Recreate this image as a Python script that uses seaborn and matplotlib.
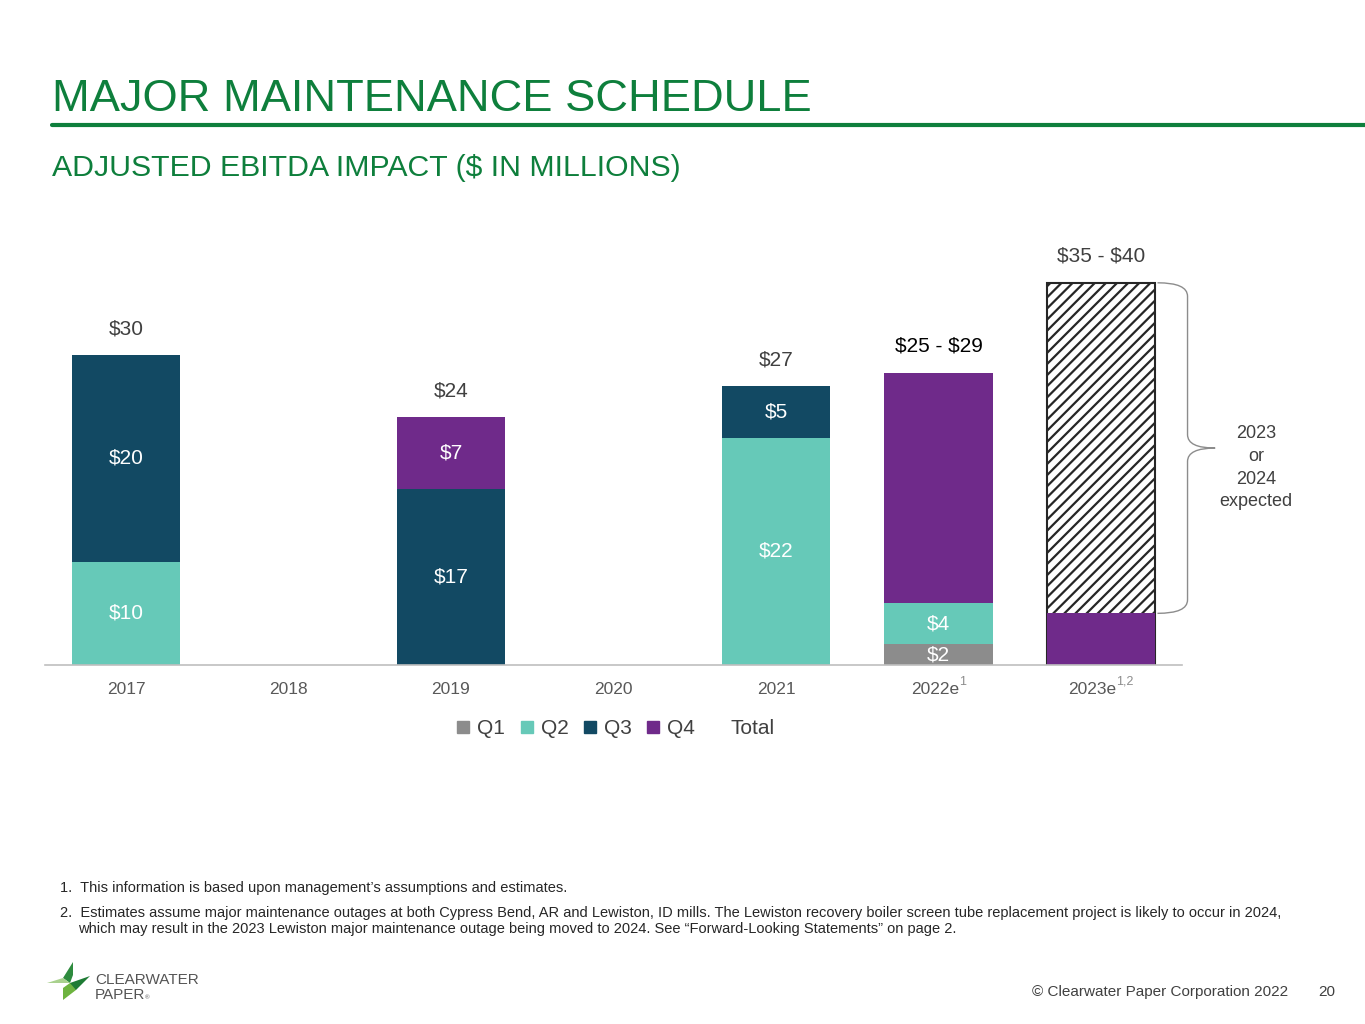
import matplotlib
matplotlib.use("Agg")
import matplotlib.pyplot as plt
import matplotlib.transforms as mtransforms
import seaborn as sns
import pandas as pd
import numpy as np
from matplotlib.path import Path
from matplotlib.patches import PathPatch, Polygon
from matplotlib.lines import Line2D

# ---------------- data ----------------
years = ["2017", "2018", "2019", "2020", "2021", "2022e", "2023e"]
tick_labels = ["2017", "2018", "2019", "2020", "2021", "2022e", "2023e"]
tick_superscripts = ["", "", "", "", "", "1", "1,2"]
q1 = [0, 0, 0, 0, 0, 2, 0]
q2 = [10, 0, 0, 0, 22, 4, 0]
q3 = [20, 0, 17, 0, 5, 0, 0]
q4 = [0, 0, 7, 0, 0, 22.3, 5]
open_part = [0, 0, 0, 0, 0, 0, 32]   # hatched "2023 or 2024 expected" portion
q1_labels = ["", "", "", "", "", r"\$2", ""]
q2_labels = [r"\$10", "", "", "", r"\$22", r"\$4", ""]
q3_labels = [r"\$20", "", r"\$17", "", r"\$5", "", ""]
q4_labels = ["", "", r"\$7", "", "", "", ""]
total_labels = [r"\$30", "", r"\$24", "", r"\$27", r"\$25 - \$29", r"\$35 - \$40"]
total_label_colors = ["#404040", "#404040", "#404040", "#404040", "#404040", "#000000", "#404040"]
series_names = ["Q1", "Q2", "Q3", "Q4"]

# ---------------- style ----------------
sns.set_theme(style="white")
plt.rcParams["font.family"] = ["Liberation Sans", "DejaVu Sans"]
plt.rcParams["hatch.linewidth"] = 1.6

colors = {"Q1": "#8C8C8C", "Q2": "#66C9B8", "Q3": "#124963", "Q4": "#6F2A8A"}
GREEN = "#0E7F3C"

W, H = 1365, 1024
fig = plt.figure(figsize=(W / 100, H / 100), dpi=100)
fig.patch.set_facecolor("white")

def fx(px):
    return px / W

def fy(py):
    return 1 - py / H

# axes placement
ax = fig.add_axes([fx(44.75), fy(665), (1182.25 - 44.75) / W, (665 - 251.8) / H])

df = pd.DataFrame({"year": years, "Q1": q1, "Q2": q2, "Q3": q3, "Q4": q4, "open": open_part})
df["c1"] = df["Q1"]
df["c2"] = df["c1"] + df["Q2"]
df["c3"] = df["c2"] + df["Q3"]
df["c4"] = df["c3"] + df["Q4"]
df["top"] = df["c4"] + df["open"]

BW = 0.665

# hatched portion (only where present)
dh = df[df["open"] > 0]
sns.barplot(data=dh, x="year", y="top", order=years, color="white", saturation=1,
            width=BW, errorbar=None, ax=ax, edgecolor="#262626", hatch="///", linewidth=1.5)

for col, name in [("c4", "Q4"), ("c3", "Q3"), ("c2", "Q2"), ("c1", "Q1")]:
    sns.barplot(data=df, x="year", y=col, order=years, color=colors[name], saturation=1,
                width=BW, errorbar=None, ax=ax, linewidth=0)

# segment labels
bottoms = np.zeros(len(years))
for vals, labs in [(q1, q1_labels), (q2, q2_labels), (q3, q3_labels), (q4, q4_labels)]:
    for i, (v, lab) in enumerate(zip(vals, labs)):
        if lab:
            ax.text(i, bottoms[i] + v / 2, lab, ha="center", va="center",
                    color="white", fontsize=15)
    bottoms = bottoms + np.array(vals)

# total labels
for i, lab in enumerate(total_labels):
    if lab:
        ax.annotate(lab, (i, df["top"].iloc[i]), xytext=(0, 19), textcoords="offset points",
                    ha="center", va="center", fontsize=15, color=total_label_colors[i])

# brace for open portion of 2023e
i = 6
y0 = df["c4"].iloc[i]
y1 = df["top"].iloc[i]
ym = (y0 + y1) / 2
xa = i + BW / 2 + 0.015
xb = xa + 0.185
xt = xb + 0.17
r = 1.3
verts = [(xa, y1), (xb, y1), (xb, y1 - r),
         (xb, ym + r), (xb, ym), (xt, ym),
         (xb, ym), (xb, ym - r),
         (xb, y0 + r), (xb, y0), (xa, y0)]
codes = [Path.MOVETO, Path.CURVE3, Path.CURVE3,
         Path.LINETO, Path.CURVE3, Path.CURVE3,
         Path.CURVE3, Path.CURVE3,
         Path.LINETO, Path.CURVE3, Path.CURVE3]
ax.add_patch(PathPatch(Path(verts, codes), facecolor="none", edgecolor="#8C8C8C",
                       linewidth=1.0, clip_on=False))
ax.text(xt + 0.25, ym - 1.9, "2023\nor\n2024\nexpected", ha="center", va="center",
        fontsize=13, color="#404040", linespacing=1.45, clip_on=False)

ax.set_xlim(-0.5, 6.5)
ax.set_ylim(0, 40)
ax.set_xticks(range(len(years)))
ax.set_xticklabels(tick_labels, fontsize=12.5, color="#595959")
ax.tick_params(axis="x", length=0, pad=12)
ax.set_yticks([])
ax.set_xlabel("")
ax.set_ylabel("")
for s in ["top", "right", "left"]:
    ax.spines[s].set_visible(False)
ax.spines["bottom"].set_color("#BFBFBF")
ax.spines["bottom"].set_linewidth(1.2)

# superscripts on tick labels (whole label + superscript centred on the tick)
fig.canvas.draw()
renderer = fig.canvas.get_renderer()
for lbl, sup in zip(ax.get_xticklabels(), tick_superscripts):
    if sup:
        st = fig.text(0, 0, sup, fontsize=9, color="#8C8C8C", ha="left", va="baseline")
        sw = st.get_window_extent(renderer).width
        shift = mtransforms.ScaledTranslation(-sw / 2 / 100, 0, fig.dpi_scale_trans)
        lbl.set_transform(lbl.get_transform() + shift)
        bb = lbl.get_window_extent(renderer)
        st.set_position((bb.x1 / W, (bb.y1 - 3) / H))

# legend
handles = [Line2D([], [], marker="s", linestyle="none", markersize=8.5,
                  markerfacecolor=colors[n], markeredgecolor=colors[n]) for n in series_names]
handles.append(Line2D([], [], marker="s", linestyle="none", markersize=8.5,
                      markerfacecolor="none", markeredgecolor="none"))
fig.legend(handles, series_names + ["Total"], loc="center", bbox_to_anchor=(fx(616), fy(729)),
           ncol=5, frameon=False, fontsize=15, handlelength=0.55, handletextpad=0.4,
           columnspacing=0.75, labelcolor="#404040")

# titles
fig.text(fx(52), fy(111), "MAJOR MAINTENANCE SCHEDULE", fontsize=32.6, color=GREEN, va="baseline")
fig.add_artist(Line2D([fx(52), fx(1365)], [fy(125), fy(125)], color=GREEN, linewidth=3))
fig.text(fx(52), fy(176), "ADJUSTED EBITDA IMPACT ($ IN MILLIONS)", fontsize=21.8, color=GREEN,
         va="baseline")

# footnotes
fn_color = "#262626"
fig.text(fx(60), fy(892), "1.  This information is based upon management’s assumptions and estimates.",
         fontsize=10.5, color=fn_color, va="baseline")
fig.text(fx(60), fy(917), "2.  Estimates assume major maintenance outages at both Cypress Bend, AR and Lewiston, ID mills. "
         "The Lewiston recovery boiler screen tube replacement project is likely to occur in 2024,",
         fontsize=10.5, color=fn_color, va="baseline")
fig.text(fx(78), fy(933), "which may result in the 2023 Lewiston major maintenance outage being moved to 2024. "
         "See “Forward-Looking Statements” on page 2.", fontsize=10.5, color=fn_color, va="baseline")

# footer
fig.text(fx(1288), fy(996), "© Clearwater Paper Corporation 2022", fontsize=11, color="#404040",
         ha="right", va="baseline")
fig.text(fx(1335), fy(996), "20", fontsize=11, color="#404040", ha="right", va="baseline")

# logo
def poly(pts, c):
    fig.add_artist(Polygon([(fx(x), fy(y)) for x, y in pts], closed=True, facecolor=c,
                           edgecolor="none", transform=fig.transFigure))

poly([(73, 962), (63, 978), (70, 983), (73, 975)], "#2E8B3E")
poly([(47, 983), (63, 978), (70, 983)], "#A9D18E")
poly([(70, 983), (90, 976), (76, 990), (70, 990)], "#1E7B34")
poly([(63, 1000), (63, 988), (70, 983), (76, 990)], "#6DB33F")
fig.text(fx(95), fy(984), "CLEARWATER", fontsize=11, color="#555555", va="baseline")
fig.text(fx(95), fy(999), "PAPER", fontsize=11, color="#555555", va="baseline")
fig.text(fx(145), fy(999), "®", fontsize=4.5, color="#555555", va="baseline")

fig.savefig("out.png", dpi=100, facecolor="white")
